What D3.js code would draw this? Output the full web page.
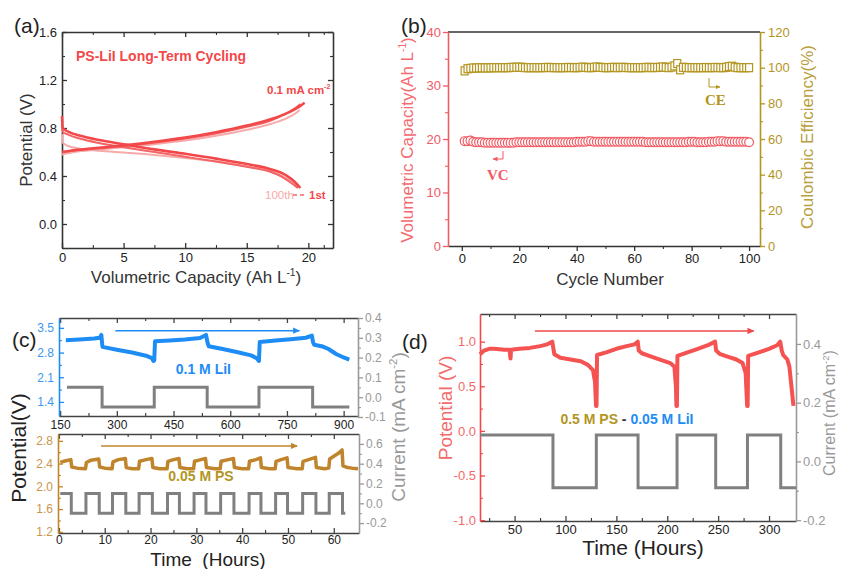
<!DOCTYPE html>
<html>
<head>
<meta charset="utf-8">
<script src="https://cdn.jsdelivr.net/npm/d3@7"></script>
<style>
  body { margin: 0; background: #fff; }
  svg { font-family: 'Liberation Sans', Arial, sans-serif; }
</style>
</head>
<body>
<svg id="fig" width="841" height="569"></svg>
<script>
'use strict';

// ---------- (a) charge / discharge curves, [capacity, potential] ----------
var charge1st   = [[0,0.60],[1,0.615],[3,0.635],[5,0.655],[7.5,0.685],[10,0.72],[12.5,0.765],[15,0.82],[17,0.875],[18.5,0.935],[19.3,0.98],[19.7,1.01]];
var charge50th  = [[0,0.60],[1,0.612],[3,0.63],[5,0.65],[7.5,0.678],[10,0.712],[12.5,0.755],[15,0.81],[17,0.865],[18.3,0.925],[19.0,0.97],[19.35,1.0]];
var charge100th = [[0,0.58],[1,0.60],[3,0.62],[5,0.64],[7.5,0.665],[10,0.695],[12.5,0.735],[15,0.785],[17,0.835],[18.3,0.885],[19.0,0.925],[19.3,0.95]];
var discharge1st   = [[0,0.90],[0.05,0.80],[0.5,0.77],[1.5,0.735],[3,0.70],[5,0.665],[7.5,0.622],[10,0.585],[12.5,0.545],[15,0.50],[17,0.455],[18.2,0.405],[18.9,0.35],[19.35,0.30]];
var discharge50th  = [[0,0.85],[0.05,0.77],[0.5,0.745],[1.5,0.71],[3,0.675],[5,0.64],[7.5,0.60],[10,0.56],[12.5,0.52],[15,0.477],[16.9,0.435],[18.0,0.385],[18.7,0.335],[19.15,0.30]];
var discharge100th = [[0,0.75],[0.05,0.68],[0.5,0.65],[1.5,0.628],[3,0.61],[5,0.595],[7.5,0.575],[10,0.55],[12.5,0.52],[15,0.48],[16.9,0.44],[18.0,0.39],[18.8,0.345],[19.2,0.31]];
var capTicks = [0, 5, 10, 15, 20];
var potTicksA = [0, 0.4, 0.8, 1.2, 1.6];

// ---------- (b) cycling: volumetric capacity and coulombic efficiency ----------
var vcValues = [
  19.6,19.6,19.7,19.5,19.4,19.4,19.4,19.3,19.3,19.3,
  19.3,19.3,19.3,19.3,19.3,19.3,19.3,19.3,19.4,19.4,
  19.4,19.4,19.4,19.4,19.4,19.4,19.4,19.4,19.4,19.4,
  19.4,19.4,19.4,19.4,19.4,19.4,19.4,19.4,19.4,19.5,
  19.5,19.5,19.5,19.6,19.6,19.5,19.5,19.5,19.5,19.5,
  19.5,19.5,19.5,19.5,19.5,19.5,19.5,19.5,19.5,19.5,
  19.5,19.5,19.5,19.4,19.4,19.4,19.4,19.4,19.4,19.4,
  19.4,19.4,19.4,19.4,19.4,19.4,19.4,19.4,19.5,19.5,
  19.5,19.4,19.4,19.4,19.4,19.5,19.5,19.5,19.6,19.6,
  19.6,19.5,19.5,19.5,19.5,19.5,19.5,19.5,19.5,19.4];
var ceValues = [
  98.2,99.4,99.6,99.8,99.8,99.9,99.9,99.9,99.9,99.9,
  100.0,100.0,100.0,100.0,100.0,100.0,100.1,100.2,100.2,100.3,
  100.2,100.0,100.0,100.0,100.0,100.0,100.0,100.0,100.1,100.1,
  100.1,100.0,100.0,100.0,100.0,100.0,100.1,100.1,100.0,100.0,
  100.1,100.3,100.2,100.0,100.0,100.2,100.4,100.2,100.1,100.0,
  100.0,100.1,100.2,100.0,100.1,100.2,100.1,100.0,100.0,100.0,
  100.0,100.0,100.0,100.1,100.2,100.0,100.1,100.1,100.2,100.4,
  100.2,100.0,100.3,101.0,102.3,98.8,100.2,100.1,100.0,100.0,
  100.0,100.0,100.0,100.0,100.1,100.0,100.0,100.1,100.1,100.0,
  100.0,100.2,100.6,100.8,100.3,100.0,100.0,100.0,100.0,100.0];
var cycleTicks = [0, 20, 40, 60, 80, 100];
var vcTicks = [0, 10, 20, 30, 40];
var ceTicks = [0, 20, 40, 60, 80, 100, 120];

// ---------- (c) top: 0.1 M LiI, [hours, V] ----------
var liiPotential = [[165,3.15],[200,3.17],[240,3.20],[255,3.22],[259,3.30],[262,2.96],[300,2.88],[340,2.80],[380,2.70],[393,2.64],[397,2.56],[399,2.58],[401,3.12],[440,3.14],[480,3.17],[520,3.21],[536,3.30],[540,3.08],[543,2.98],[580,2.90],[620,2.81],[655,2.72],[670,2.64],[676,2.56],[678,3.10],[720,3.14],[760,3.18],[800,3.22],[816,3.28],[819,3.10],[822,3.02],[845,2.97],[860,2.90],[880,2.76],[900,2.66],[915,2.60]];
var liiCurrentTime  = [168, 261, 399, 539, 676, 818, 915];
var liiCurrentLevel = [0.05, -0.05, 0.05, -0.05, 0.05, -0.05, -0.05];
var liiTimeTicks = [150, 300, 450, 600, 750, 900];
var liiPotTicks = [1.4, 2.1, 2.8, 3.5];
var liiCurTicks = [-0.1, 0, 0.1, 0.2, 0.3, 0.4];

// ---------- (c) bottom: 0.05 M PS, [hours, V] ----------
var psPotential = [[0.3,2.42],[1.5,2.45],[2.6,2.47],[2.8,2.34],[4,2.32],[5.8,2.31],[6.0,2.42],[7,2.46],[8.7,2.48],[8.9,2.34],[10,2.32],[11.6,2.31],[11.8,2.43],[13,2.47],[14.5,2.49],[14.7,2.33],[16,2.31],[17.4,2.31],[17.6,2.44],[19,2.47],[20.3,2.49],[20.5,2.33],[22,2.31],[23.6,2.31],[23.8,2.44],[25,2.47],[26.2,2.49],[26.4,2.33],[28,2.31],[29.4,2.31],[29.6,2.44],[31,2.47],[32,2.49],[32.2,2.33],[34,2.31],[35.2,2.31],[35.4,2.44],[37,2.47],[38.1,2.49],[38.3,2.33],[40,2.31],[41.4,2.31],[41.6,2.44],[43,2.47],[44,2.50],[44.2,2.33],[46,2.31],[47.2,2.31],[47.4,2.44],[48.5,2.47],[49.8,2.50],[50,2.33],[52,2.31],[53.1,2.31],[53.3,2.44],[54.5,2.47],[56,2.51],[56.2,2.33],[58,2.31],[58.9,2.32],[59.1,2.48],[60,2.53],[61,2.58],[61.8,2.64],[62,2.36],[63,2.33],[64,2.32],[65.3,2.31]];
var psCurrentTime  = [0.3, 2.7, 5.9, 8.8, 11.7, 14.6, 17.5, 20.4, 23.7, 26.3, 29.5, 32.1, 35.3, 38.2, 41.5, 44.1, 47.3, 49.9, 53.2, 56.1, 59.0, 61.9, 62.5];
var psCurrentLevel = [0.1, -0.1, 0.1, -0.1, 0.1, -0.1, 0.1, -0.1, 0.1, -0.1, 0.1, -0.1, 0.1, -0.1, 0.1, -0.1, 0.1, -0.1, 0.1, -0.1, 0.1, -0.1, -0.1];
var psTimeTicks = [0, 10, 20, 30, 40, 50, 60];
var psPotTicks = [1.2, 1.6, 2.0, 2.4, 2.8];
var psCurTicks = [-0.2, 0, 0.2, 0.4, 0.6];

// ---------- (d) 0.5 M PS - 0.05 M LiI, [hours, V] ----------
var fullPotential = [[16,0.86],[20,0.90],[25,0.92],[30,0.92],[40,0.91],[45,0.91],[46,0.81],[46.5,0.91],[55,0.92],[65,0.93],[75,0.95],[82,0.97],[87,1.0],[88,0.93],[89,0.86],[95,0.82],[105,0.80],[115,0.78],[122,0.74],[127,0.68],[129,0.55],[130,0.28],[130.5,0.28],[131,0.85],[140,0.88],[150,0.92],[160,0.95],[168,0.97],[171,1.0],[172,0.90],[175,0.87],[185,0.83],[195,0.79],[203,0.76],[207,0.72],[208.5,0.50],[209,0.28],[209.5,0.28],[210,0.84],[220,0.88],[230,0.92],[240,0.96],[247,1.0],[248,0.90],[252,0.86],[260,0.83],[268,0.80],[274,0.76],[277,0.65],[278.5,0.28],[279,0.28],[279.5,0.84],[290,0.88],[300,0.92],[308,0.96],[311,1.0],[312.5,0.90],[314,0.85],[318,0.80],[320,0.72],[322,0.50],[324,0.28]];
var fullCurrentTime  = [16, 87.7, 130.3, 171.3, 209.6, 247.6, 278.8, 311.5, 326.5];
var fullCurrentLevel = [0.09, -0.09, 0.09, -0.09, 0.09, -0.09, 0.09, -0.09, -0.09];
var fullTimeTicks = [50, 100, 150, 200, 250, 300];
var fullPotTicks = [-1, -0.5, 0, 0.5, 1];
var fullCurTicks = [-0.2, 0, 0.2, 0.4];

var FONT = "'Liberation Sans', Arial, sans-serif";
var RED = '#f2484a', PALE = '#f7aaaa', MID = '#f46464';
var VCRED = '#f25a62', OLIVE = '#b3951f', BLUE = '#1e8cf5', BROWN = '#c0852c', GREY = '#808080';
var DARK = '#333';

var svg = d3.select('#fig');
var defs = svg.append('defs');
var f1 = function(d){ return d3.format('.1f')(d).replace('\u2212', '-'); };
var f0 = function(d){ return String(d); };

function arrowMarker(id, color){
  defs.append('marker').attr('id', id)
      .attr('viewBox', '0 0 10 10').attr('refX', 9).attr('refY', 5)
      .attr('markerWidth', 5).attr('markerHeight', 5).attr('orient', 'auto')
      .append('path').attr('d', 'M0,0.5L10,5L0,9.5z').attr('fill', color);
}
arrowMarker('arBlue', BLUE);
arrowMarker('arBrown', BROWN);
arrowMarker('arRed', RED);
arrowMarker('arVC', VCRED);
arrowMarker('arCE', OLIVE);

function addAxis(g, gen, tr, lineColor, textColor, fs){
  var a = g.append('g').attr('transform', tr).call(gen)
      .attr('font-family', FONT);
  a.select('.domain').attr('stroke', lineColor).attr('stroke-width', 1.6);
  a.selectAll('.tick line').attr('stroke', lineColor).attr('stroke-width', 1.3);
  a.selectAll('.tick text').attr('fill', textColor).style('font-size', fs + 'px');
  return a;
}
function addMinor(g, gen, tr, color){
  var a = g.append('g').attr('transform', tr).call(gen.tickFormat(''));
  a.select('.domain').remove();
  a.selectAll('.tick line').attr('stroke', color).attr('stroke-width', 1.1);
}
function midpoints(t){
  var m = [];
  for (var i = 0; i < t.length - 1; i++){ m.push((t[i] + t[i+1]) / 2); }
  return m;
}
function label(g, txt, x, y, fs, color, opts){
  opts = opts || {};
  var t = g.append('text')
      .attr('x', x).attr('y', y)
      .attr('fill', color)
      .style('font-size', fs + 'px')
      .style('font-weight', opts.bold ? 'bold' : 'normal')
      .style('text-anchor', opts.anchor || 'start')
      .text(txt);
  if (opts.family){ t.style('font-family', opts.family); }
  if (opts.rotate){ t.attr('transform', 'rotate(-90,' + x + ',' + y + ')'); }
  return t;
}
function sup(t, s, fs){
  t.append('tspan').attr('dy', -fs * 0.4).style('font-size', (fs * 0.6) + 'px').text(s);
}

// ==================== (a) ====================
(function(){
  var g = svg.append('g');
  var x = d3.scaleLinear().domain([0, 22]).range([62, 333]);
  var y = d3.scaleLinear().domain([-0.2, 1.6]).range([248, 32]);

  addMinor(g, d3.axisBottom(x).tickValues(midpoints(capTicks).concat([21.25])).tickSize(-3), 'translate(0,248)', DARK);
  addMinor(g, d3.axisTop(x).tickValues(midpoints(capTicks).concat([21.25])).tickSize(-3), 'translate(0,32)', DARK);
  addMinor(g, d3.axisLeft(y).tickValues([-0.2].concat(midpoints(potTicksA))).tickSize(-3), 'translate(62,0)', DARK);
  addMinor(g, d3.axisRight(y).tickValues([-0.2].concat(midpoints(potTicksA))).tickSize(-3), 'translate(333,0)', DARK);

  addAxis(g, d3.axisBottom(x).tickValues(capTicks).tickSizeInner(-5).tickSizeOuter(0).tickPadding(5).tickFormat(f0), 'translate(0,248)', DARK, '#222', 13);
  addAxis(g, d3.axisTop(x).tickValues(capTicks).tickSizeInner(-5).tickSizeOuter(0).tickFormat(''), 'translate(0,32)', DARK, '#222', 13);
  addAxis(g, d3.axisLeft(y).tickValues(potTicksA).tickSizeInner(-5).tickSizeOuter(0).tickPadding(5).tickFormat(f1), 'translate(62,0)', DARK, '#222', 13);
  addAxis(g, d3.axisRight(y).tickValues(potTicksA).tickSizeInner(-5).tickSizeOuter(0).tickFormat(''), 'translate(333,0)', DARK, '#222', 13);

  var line = d3.line().x(function(d){ return x(d[0]); }).y(function(d){ return y(d[1]); }).curve(d3.curveMonotoneX);
  var curves = [
    {d: charge100th, c: PALE, w: 2}, {d: discharge100th, c: PALE, w: 2},
    {d: charge50th, c: MID, w: 2}, {d: discharge50th, c: MID, w: 2},
    {d: charge1st, c: RED, w: 2.6}, {d: discharge1st, c: RED, w: 2.6}
  ];
  g.selectAll('path.cv').data(curves).enter().append('path')
      .attr('class', 'cv')
      .attr('d', function(d){ return line(d.d); })
      .attr('fill', 'none')
      .attr('stroke', function(d){ return d.c; })
      .attr('stroke-width', function(d){ return d.w; });

  label(g, '(a)', 14, 33, 21, '#222');
  label(g, 'PS-LiI Long-Term Cycling', 76, 61, 14, RED, {bold: true});
  var t = label(g, '0.1 mA cm', 267, 94, 11.5, RED, {bold: true});
  sup(t, '-2', 11.5);
  label(g, '100th', 265, 199, 11.5, PALE, {});
  g.append('line').attr('x1', 293).attr('x2', 306).attr('y1', 195).attr('y2', 195)
      .attr('stroke', MID).attr('stroke-width', 1.5).attr('stroke-dasharray', '4,3');
  label(g, '1st', 309, 199, 11.5, RED, {bold: true});

  label(g, 'Potential (V)', 32, 140, 17, '#333', {anchor: 'middle', rotate: true});
  var xt = label(g, 'Volumetric Capacity (Ah L', 196, 283, 17, '#333', {anchor: 'middle'});
  sup(xt, '-1', 17);
  xt.append('tspan').attr('dy', 17 * 0.4).text(')');
})();

// ==================== (b) ====================
(function(){
  var g = svg.append('g');
  var x = d3.scaleLinear().domain([-4.8, 103.8]).range([448, 760]);
  var yl = d3.scaleLinear().domain([0, 40]).range([246, 32]);
  var yr = d3.scaleLinear().domain([0, 120]).range([246, 32]);

  g.append('line').attr('x1', 448).attr('x2', 760).attr('y1', 32).attr('y2', 32).attr('stroke', DARK).attr('stroke-width', 1.6);
  addMinor(g, d3.axisBottom(x).tickValues(midpoints(cycleTicks)).tickSize(3), 'translate(0,246)', DARK);
  addMinor(g, d3.axisLeft(yl).tickValues(midpoints(vcTicks)).tickSize(3), 'translate(448,0)', VCRED);
  addMinor(g, d3.axisRight(yr).tickValues(midpoints(ceTicks)).tickSize(3), 'translate(760,0)', OLIVE);
  addAxis(g, d3.axisBottom(x).tickValues(cycleTicks).tickSizeInner(5).tickSizeOuter(0).tickPadding(3).tickFormat(f0), 'translate(0,246)', DARK, '#222', 13);
  addAxis(g, d3.axisLeft(yl).tickValues(vcTicks).tickSizeInner(5).tickSizeOuter(0).tickPadding(2).tickFormat(f0), 'translate(448,0)', VCRED, VCRED, 13);
  addAxis(g, d3.axisRight(yr).tickValues(ceTicks).tickSizeInner(5).tickSizeOuter(0).tickPadding(3).tickFormat(f0), 'translate(760,0)', OLIVE, OLIVE, 13);

  g.selectAll('rect.ce').data(ceValues).enter().append('rect')
      .attr('class', 'ce')
      .attr('x', function(d, i){ return x(i + 1) - 3.5; })
      .attr('y', function(d){ return yr(d) - 4; })
      .attr('width', 7).attr('height', 8)
      .attr('fill', '#fff').attr('stroke', OLIVE).attr('stroke-width', 1.2);
  g.selectAll('circle.vc').data(vcValues).enter().append('circle')
      .attr('class', 'vc')
      .attr('cx', function(d, i){ return x(i + 1); })
      .attr('cy', function(d){ return yl(d); })
      .attr('r', 4.4)
      .attr('fill', '#fff').attr('stroke', VCRED).attr('stroke-width', 1.2);

  label(g, '(b)', 401, 33, 21, '#222');
  var serif = "'Liberation Serif', 'DejaVu Serif', serif";
  label(g, 'VC', 487, 180, 15, VCRED, {bold: true, family: serif});
  g.append('path').attr('d', 'M503,151V159H493').attr('fill', 'none')
      .attr('stroke', VCRED).attr('stroke-width', 1).attr('marker-end', 'url(#arVC)');
  label(g, 'CE', 705, 105, 15, OLIVE, {bold: true, family: serif});
  g.append('path').attr('d', 'M709,78V87H720').attr('fill', 'none')
      .attr('stroke', OLIVE).attr('stroke-width', 1).attr('marker-end', 'url(#arCE)');

  var lt = label(g, 'Volumetric Capacity(Ah L', 413, 140, 17, '#f36a72', {anchor: 'middle', rotate: true});
  sup(lt, '-1', 17);
  lt.append('tspan').attr('dy', 17 * 0.4).text(')');
  label(g, 'Coulombic Efficiency(%)', 813, 137, 17, '#b8a040', {anchor: 'middle', rotate: true});
  label(g, 'Cycle Number', 610, 285, 17, '#333', {anchor: 'middle'});
})();

// ==================== (c) top ====================
(function(){
  var g = svg.append('g');
  var x = d3.scaleLinear().domain([147, 938]).range([59, 358]);
  var yl = d3.scaleLinear().domain([1.0, 3.78]).range([416, 318]);
  var yr = d3.scaleLinear().domain([-0.1, 0.4]).range([417, 318]);

  addMinor(g, d3.axisTop(x).tickValues(midpoints(liiTimeTicks)).tickSize(-3), 'translate(0,318)', DARK);
  addMinor(g, d3.axisBottom(x).tickValues(midpoints(liiTimeTicks)).tickSize(-3), 'translate(0,416)', DARK);
  addMinor(g, d3.axisLeft(yl).tickValues(midpoints(liiPotTicks)).tickSize(-3), 'translate(59,0)', BLUE);
  addMinor(g, d3.axisRight(yr).tickValues(midpoints(liiCurTicks)).tickSize(3), 'translate(358,0)', '#999');
  addAxis(g, d3.axisTop(x).tickValues(liiTimeTicks).tickSizeInner(-5).tickSizeOuter(0).tickFormat(''), 'translate(0,318)', '#444', '#222', 12);
  addAxis(g, d3.axisBottom(x).tickValues(liiTimeTicks).tickSizeInner(-5).tickSizeOuter(0).tickPadding(4).tickFormat(f0), 'translate(0,416)', '#444', '#222', 12);
  addAxis(g, d3.axisLeft(yl).tickValues(liiPotTicks).tickSizeInner(-5).tickSizeOuter(0).tickPadding(5).tickFormat(f1), 'translate(59,0)', BLUE, '#3a96f0', 12);
  addAxis(g, d3.axisRight(yr).tickValues(liiCurTicks).tickSizeInner(5).tickSizeOuter(0).tickPadding(2).tickFormat(f1), 'translate(358,0)', '#999', '#999', 12);

  var cur = liiCurrentTime.map(function(t, i){ return [t, liiCurrentLevel[i]]; });
  g.append('path')
      .attr('d', d3.line().x(function(d){ return x(d[0]); }).y(function(d){ return yr(d[1]); }).curve(d3.curveStepAfter)(cur))
      .attr('fill', 'none').attr('stroke', GREY).attr('stroke-width', 3);
  g.append('path')
      .attr('d', d3.line().x(function(d){ return x(d[0]); }).y(function(d){ return yl(d[1]); })(liiPotential))
      .attr('fill', 'none').attr('stroke', BLUE).attr('stroke-width', 4).attr('stroke-linejoin', 'round');

  g.append('line').attr('x1', x(296)).attr('x2', x(783)).attr('y1', yl(3.42)).attr('y2', yl(3.42))
      .attr('stroke', BLUE).attr('stroke-width', 1.4).attr('marker-end', 'url(#arBlue)');
  label(g, '0.1 M LiI', x(529), yl(2.18), 14, BLUE, {bold: true, anchor: 'middle'});
  label(g, '(c)', 12, 347, 21, '#222');
})();

// ==================== (c) bottom ====================
(function(){
  var g = svg.append('g');
  var x = d3.scaleLinear().domain([-0.2, 65.5]).range([58, 359]);
  var yl = d3.scaleLinear().domain([1.18, 2.92]).range([533, 434]);
  var yr = d3.scaleLinear().domain([-0.3, 0.7]).range([533, 434]);

  addMinor(g, d3.axisTop(x).tickValues(midpoints(psTimeTicks)).tickSize(-3), 'translate(0,434)', DARK);
  addMinor(g, d3.axisBottom(x).tickValues(midpoints(psTimeTicks)).tickSize(-3), 'translate(0,533)', DARK);
  addMinor(g, d3.axisLeft(yl).tickValues(midpoints(psPotTicks)).tickSize(-3), 'translate(58,0)', BROWN);
  addMinor(g, d3.axisRight(yr).tickValues(midpoints(psCurTicks)).tickSize(3), 'translate(359,0)', '#999');
  addAxis(g, d3.axisTop(x).tickValues(psTimeTicks).tickSizeInner(-5).tickSizeOuter(0).tickFormat(''), 'translate(0,434)', '#444', '#222', 12);
  addAxis(g, d3.axisBottom(x).tickValues(psTimeTicks).tickSizeInner(-5).tickSizeOuter(0).tickPadding(2).tickFormat(f0), 'translate(0,533)', '#444', '#222', 12);
  addAxis(g, d3.axisLeft(yl).tickValues(psPotTicks).tickSizeInner(-5).tickSizeOuter(0).tickPadding(5).tickFormat(f1), 'translate(58,0)', BROWN, '#c8964a', 12);
  addAxis(g, d3.axisRight(yr).tickValues(psCurTicks).tickSizeInner(5).tickSizeOuter(0).tickPadding(2).tickFormat(f1), 'translate(359,0)', '#999', '#999', 12);

  var cur = psCurrentTime.map(function(t, i){ return [t, psCurrentLevel[i]]; });
  g.append('path')
      .attr('d', d3.line().x(function(d){ return x(d[0]); }).y(function(d){ return yr(d[1]); }).curve(d3.curveStepAfter)(cur))
      .attr('fill', 'none').attr('stroke', GREY).attr('stroke-width', 3);
  g.append('path')
      .attr('d', d3.line().x(function(d){ return x(d[0]); }).y(function(d){ return yl(d[1]); })(psPotential))
      .attr('fill', 'none').attr('stroke', BROWN).attr('stroke-width', 3.5).attr('stroke-linejoin', 'round');

  g.append('line').attr('x1', x(9.2)).attr('x2', x(52)).attr('y1', yl(2.71)).attr('y2', yl(2.71))
      .attr('stroke', BROWN).attr('stroke-width', 1.4).attr('marker-end', 'url(#arBrown)');
  label(g, '0.05 M PS', x(31), yl(2.09), 14, OLIVE, {bold: true, anchor: 'middle'});

  label(g, 'Potential(V)', 26, 448, 21, '#222', {anchor: 'middle', rotate: true});
  var ct = label(g, 'Current (mA cm', 405, 427, 19, '#999', {anchor: 'middle', rotate: true});
  sup(ct, '-2', 19);
  ct.append('tspan').attr('dy', 19 * 0.4).text(')');
  label(g, 'Time  (Hours)', 208, 566, 19, '#222', {anchor: 'middle'}).style('white-space', 'pre');
})();

// ==================== (d) ====================
(function(){
  var g = svg.append('g');
  var x = d3.scaleLinear().domain([16, 326.5]).range([480, 796]);
  var yl = d3.scaleLinear().domain([-1.01, 1.31]).range([521, 314]);
  var yr = d3.scaleLinear().domain([-0.203, 0.502]).range([521, 314]);

  addMinor(g, d3.axisTop(x).tickValues([25].concat(midpoints(fullTimeTicks))).tickSize(-3), 'translate(0,314)', DARK);
  addMinor(g, d3.axisBottom(x).tickValues([25].concat(midpoints(fullTimeTicks))).tickSize(-3), 'translate(0,521)', DARK);
  addMinor(g, d3.axisLeft(yl).tickValues(midpoints(fullPotTicks)).tickSize(-3), 'translate(480,0)', RED);
  addMinor(g, d3.axisRight(yr).tickValues(midpoints(fullCurTicks)).tickSize(3), 'translate(796,0)', '#999');
  addAxis(g, d3.axisTop(x).tickValues(fullTimeTicks).tickSizeInner(-5).tickSizeOuter(0).tickFormat(''), 'translate(0,314)', '#444', '#222', 13);
  addAxis(g, d3.axisBottom(x).tickValues(fullTimeTicks).tickSizeInner(-5).tickSizeOuter(0).tickPadding(4).tickFormat(f0), 'translate(0,521)', '#444', '#222', 13);
  addAxis(g, d3.axisLeft(yl).tickValues(fullPotTicks).tickSizeInner(-5).tickSizeOuter(0).tickPadding(4).tickFormat(f1), 'translate(480,0)', RED, '#f36a6a', 13);
  addAxis(g, d3.axisRight(yr).tickValues(fullCurTicks).tickSizeInner(5).tickSizeOuter(0).tickPadding(2).tickFormat(f1), 'translate(796,0)', '#999', '#999', 13);

  var cur = fullCurrentTime.map(function(t, i){ return [t, fullCurrentLevel[i]]; });
  g.append('path')
      .attr('d', d3.line().x(function(d){ return x(d[0]); }).y(function(d){ return yr(d[1]); }).curve(d3.curveStepAfter)(cur))
      .attr('fill', 'none').attr('stroke', GREY).attr('stroke-width', 3);
  g.append('path')
      .attr('d', d3.line().x(function(d){ return x(d[0]); }).y(function(d){ return yl(d[1]); })(fullPotential))
      .attr('fill', 'none').attr('stroke', '#f55252').attr('stroke-width', 4).attr('stroke-linejoin', 'round');

  g.append('line').attr('x1', x(70)).attr('x2', x(285)).attr('y1', yl(1.12)).attr('y2', yl(1.12))
      .attr('stroke', RED).attr('stroke-width', 1.4).attr('marker-end', 'url(#arRed)');
  var t = g.append('text').attr('x', x(95)).attr('y', yl(0.08))
      .style('font-size', '14px').style('font-weight', 'bold');
  t.append('tspan').attr('fill', OLIVE).text('0.5 M PS');
  t.append('tspan').attr('fill', '#333').text(' - ');
  t.append('tspan').attr('fill', BLUE).text('0.05 M LiI');

  label(g, '(d)', 402, 349, 21, '#222');
  label(g, 'Potential (V)', 452, 408, 19, '#f36a6a', {anchor: 'middle', rotate: true});
  var ct = label(g, 'Current (mA cm', 835, 413, 16, '#999', {anchor: 'middle', rotate: true});
  sup(ct, '-2', 16);
  ct.append('tspan').attr('dy', 16 * 0.4).text(')');
  label(g, 'Time (Hours)', 643, 555, 21, '#222', {anchor: 'middle'});
})();
</script>
</body>
</html>
